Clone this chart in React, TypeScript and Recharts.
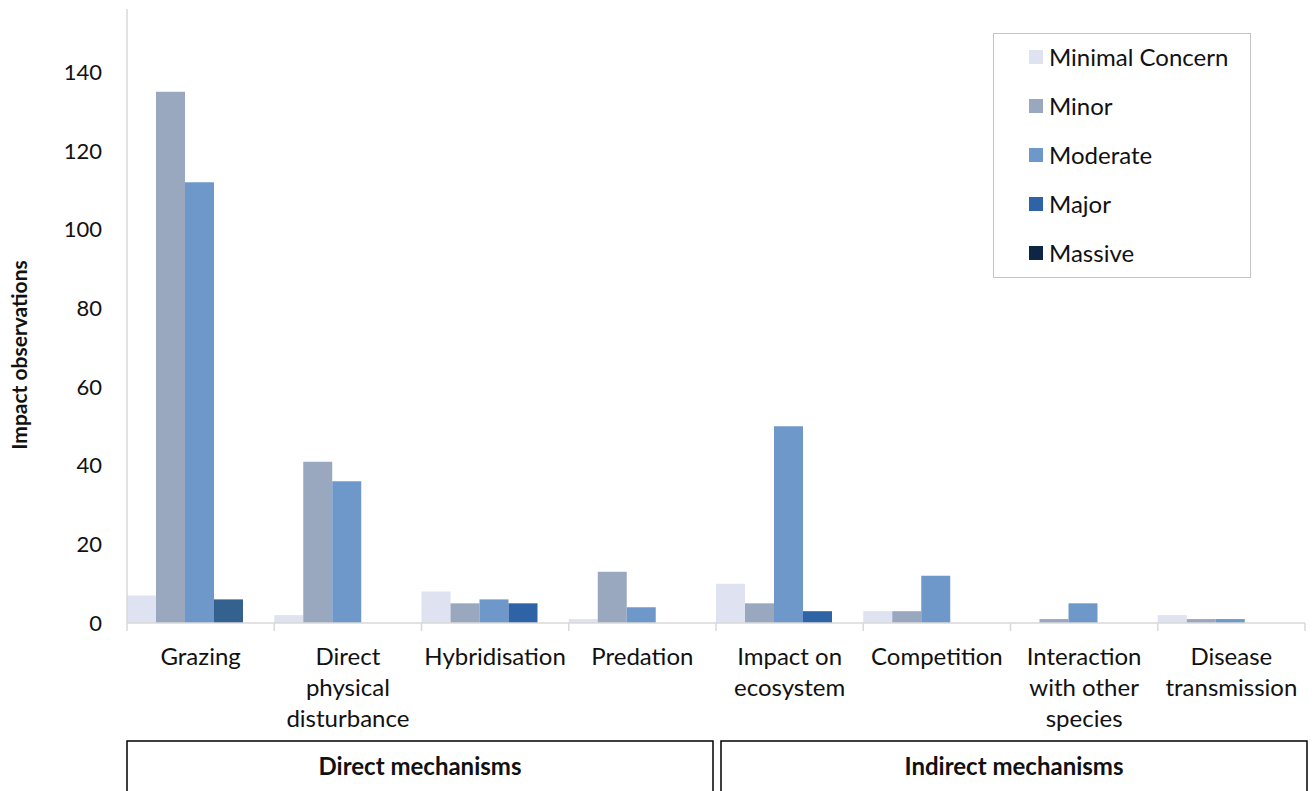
import React from "react";
import { BarChart, Bar, XAxis, YAxis, Cell, Label } from "recharts";

// Impact observations per mechanism, split by impact severity
const categories = [
  "Grazing",
  "Direct\nphysical\ndisturbance",
  "Hybridisation",
  "Predation",
  "Impact on\necosystem",
  "Competition",
  "Interaction\nwith other\nspecies",
  "Disease\ntransmission",
];

const minimalConcern = [7, 2, 8, 1, 10, 3, 0, 2];
const minor = [135, 41, 5, 13, 5, 3, 1, 1];
const moderate = [112, 36, 6, 4, 50, 12, 5, 1];
const major = [6, 0, 5, 0, 3, 0, 0, 0];
const massive = [0, 0, 0, 0, 0, 0, 0, 0];

const yTicks = [0, 20, 40, 60, 80, 100, 120, 140];

const groups = [
  { label: "Direct mechanisms", from: 0, to: 3 },
  { label: "Indirect mechanisms", from: 4, to: 7 },
];

const series = [
  { key: "minimal", name: "Minimal Concern", color: "#dfe3f1" },
  { key: "minor", name: "Minor", color: "#9aa8bf" },
  { key: "moderate", name: "Moderate", color: "#6e98ca" },
  { key: "major", name: "Major", color: "#2e63a6" },
  { key: "massive", name: "Massive", color: "#0f2546" },
];

const data = categories.map((name, i) => ({
  name,
  minimal: minimalConcern[i],
  minor: minor[i],
  moderate: moderate[i],
  major: major[i],
  massive: massive[i],
}));

const FONT = "Lato, 'Open Sans', sans-serif";
const TEXT = "#111";
const AXIS_GREY = "#d9d9d9";

const WIDTH = 1314;
const HEIGHT = 791;
const MARGIN = { top: 9, right: 9, left: 0, bottom: 0 };
const Y_AXIS_W = 127;
const BAND = (WIDTH - MARGIN.right - Y_AXIS_W) / categories.length;

function CategoryTick(props: any) {
  const { x, y, payload, index } = props;
  const lines = String(payload.value).split("\n");
  const left = x - BAND / 2;
  const last = index === categories.length - 1;
  const group = groups.find((g) => g.from === index);

  let box = null;
  if (group) {
    const x0 = left + (group.from === 0 ? 0 : 5);
    const x1 = left + (group.to - group.from + 1) * BAND + (group.to === categories.length - 1 ? 2 : -3);
    box = (
      <g>
        <rect x={x0} y={y + 118} width={x1 - x0} height={60} fill="none" stroke="#000" strokeWidth={1.5} />
        <text x={(x0 + x1) / 2} y={y + 152} textAnchor="middle" fontFamily={FONT} fontSize={24} fontWeight="bold" fill={TEXT}>
          {group.label}
        </text>
      </g>
    );
  }

  return (
    <g>
      <line x1={left} x2={left} y1={y} y2={y + 8} stroke={AXIS_GREY} strokeWidth={1.5} />
      {last && <line x1={left + BAND} x2={left + BAND} y1={y} y2={y + 8} stroke={AXIS_GREY} strokeWidth={1.5} />}
      <text x={x} y={y + 42} textAnchor="middle" fontFamily={FONT} fontSize={24} fill={TEXT}>
        {lines.map((l, i) => (
          <tspan key={i} x={x} dy={i === 0 ? 0 : 31}>
            {l}
          </tspan>
        ))}
      </text>
      {box}
    </g>
  );
}

function AxisTitle(props: any) {
  const { viewBox } = props;
  const cx = 18;
  const cy = viewBox.y + viewBox.height / 2 + 39;
  return (
    <text
      x={cx}
      y={cy}
      transform={`rotate(-90, ${cx}, ${cy})`}
      textAnchor="middle"
      dominantBaseline="central"
      fontFamily={FONT}
      fontSize={21}
      fontWeight="bold"
      fill={TEXT}
    >
      Impact observations
    </text>
  );
}

function SeverityLegend() {
  return (
    <div
      style={{
        position: "absolute",
        left: 993,
        top: 33,
        width: 256,
        height: 243,
        border: "1.5px solid #c4c4c4",
        background: "#fff",
      }}
    >
      {series.map((s, i) => (
        <div
          key={s.key}
          style={{ position: "absolute", left: 35, top: 23 + i * 49 - 12, height: 24, display: "flex", alignItems: "center" }}
        >
          <span style={{ width: 14, height: 14, background: s.color, display: "inline-block", marginRight: 6 }} />
          <span style={{ fontFamily: FONT, fontSize: 24, color: TEXT, lineHeight: "24px", whiteSpace: "nowrap" }}>{s.name}</span>
        </div>
      ))}
    </div>
  );
}

export default function App() {
  return (
    <div style={{ position: "absolute", left: 0, top: 0, width: WIDTH, height: HEIGHT, background: "#fff" }}>
      <BarChart width={WIDTH} height={HEIGHT} data={data} margin={MARGIN} barCategoryGap={0} barGap={0}>
        <XAxis
          dataKey="name"
          interval={0}
          height={HEIGHT - 623}
          tickLine={false}
          tickSize={0}
          tickMargin={0}
          axisLine={{ stroke: AXIS_GREY, strokeWidth: 1.5 }}
          tick={<CategoryTick />}
        />
        <YAxis
          width={Y_AXIS_W}
          domain={[0, 156]}
          ticks={yTicks}
          allowDataOverflow
          tickLine={false}
          tickSize={0}
          tickMargin={25}
          axisLine={{ stroke: AXIS_GREY, strokeWidth: 1.5 }}
          tick={{ fontFamily: FONT, fontSize: 22, fill: TEXT }}
        >
          <Label content={<AxisTitle />} />
        </YAxis>
        {series.map((s) => (
          <Bar key={s.key} dataKey={s.key} name={s.name} fill={s.color} isAnimationActive={false}>
            {s.key === "major" &&
              data.map((d, i) => <Cell key={i} fill={i === 0 ? "#35618f" : s.color} />)}
          </Bar>
        ))}
      </BarChart>
      <SeverityLegend />
    </div>
  );
}
